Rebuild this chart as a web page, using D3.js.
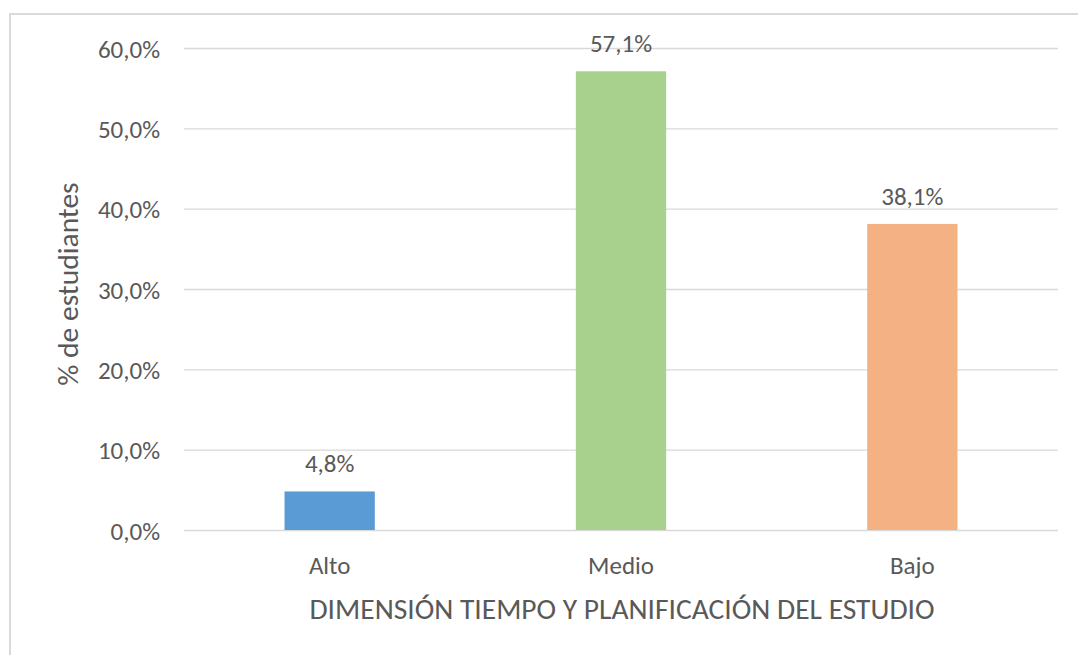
<!DOCTYPE html>
<html><head><meta charset="utf-8">
<script src="https://cdn.jsdelivr.net/npm/d3@7"></script>
<style>
body{margin:0;background:#fff;}
svg text{font-family:Carlito,Calibri,Lato,sans-serif;fill:#595959;}
</style></head>
<body><svg id="c" width="1078" height="655"></svg>
<script>
const categories = ["Alto", "Medio", "Bajo"];
const values = [4.8, 57.1, 38.1];
const labels = ["4,8%", "57,1%", "38,1%"];
const colors = ["#5b9bd5", "#a9d18e", "#f4b183"];
const yTicks = [0, 10, 20, 30, 40, 50, 60];
const yTickLabels = ["0,0%", "10,0%", "20,0%", "30,0%", "40,0%", "50,0%", "60,0%"];
const xTitle = "DIMENSIÓN TIEMPO Y PLANIFICACIÓN DEL ESTUDIO";
const yTitle = "% de estudiantes";

(function () {
const svg = d3.select("#c");
svg.append("rect").attr("x", 10).attr("y", 14).attr("width", 1100).attr("height", 700)
  .attr("fill", "none").attr("stroke", "#d9d9d9").attr("stroke-width", 2);

const pL = 184, pR = 1058, pT = 48, pB = 530;
const x = d3.scaleBand().domain(categories).range([pL, pR]).paddingInner(0.69).paddingOuter(0.345);
const y = d3.scaleLinear().domain([0, 60]).range([pB, pT]);

const yAxis = d3.axisLeft(y).tickValues(yTicks).tickSize(-(pR - pL)).tickFormat((d, i) => yTickLabels[i]);
const gy = svg.append("g").attr("transform", `translate(${pL},0)`).call(yAxis);
gy.select(".domain").remove();
gy.selectAll(".tick line").attr("stroke", "#d9d9d9").attr("stroke-width", 1.3);
gy.selectAll(".tick text").attr("x", -24).attr("font-size", 25).attr("fill", "#595959").attr("dy", "0.36em");

svg.append("g").selectAll("rect").data(values).join("rect")
  .attr("x", (d, i) => x(categories[i]))
  .attr("width", x.bandwidth())
  .attr("y", d => y(d))
  .attr("height", d => y(0) - y(d))
  .attr("fill", (d, i) => colors[i]);

svg.append("g").selectAll("text").data(values).join("text")
  .attr("x", (d, i) => x(categories[i]) + x.bandwidth() / 2)
  .attr("y", d => y(d) - 19)
  .attr("text-anchor", "middle").attr("font-size", 25)
  .text((d, i) => labels[i]);

const xAxis = d3.axisBottom(x).tickSize(0);
const gx = svg.append("g").attr("transform", `translate(0,${pB})`).call(xAxis);
gx.select(".domain").remove();
gx.selectAll(".tick text").attr("font-size", 25).attr("fill", "#595959").attr("dy", 0).attr("y", 44);

svg.append("text").attr("x", 622).attr("y", 619).attr("text-anchor", "middle")
  .attr("font-size", 29.5).text(xTitle);
svg.append("text").attr("transform", "translate(78,284) rotate(-90)").attr("text-anchor", "middle")
  .attr("font-size", 29.5).text(yTitle);
})();
</script></body></html>
